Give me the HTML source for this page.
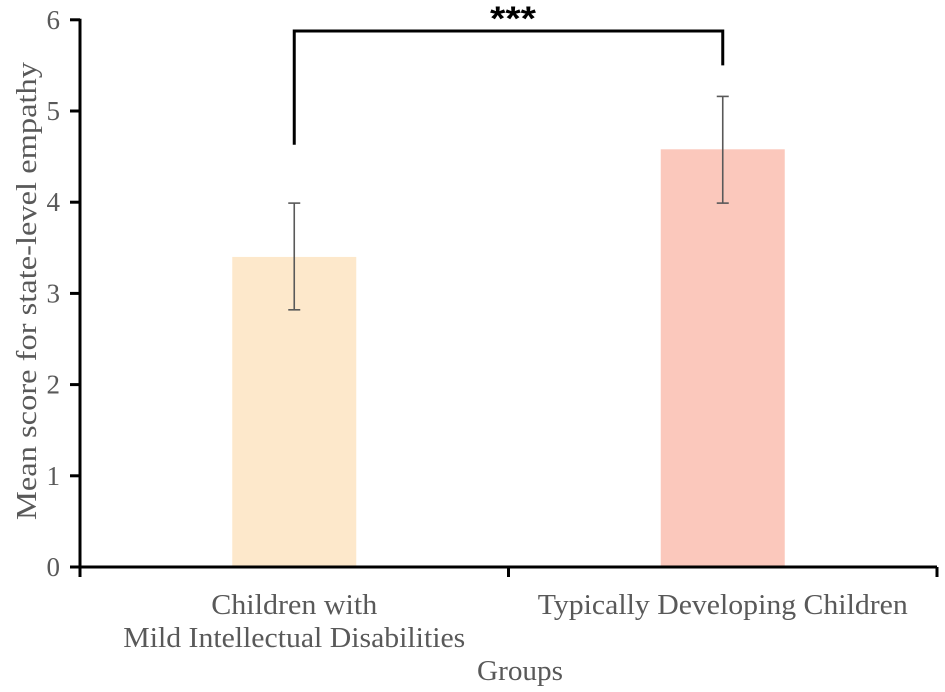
<!DOCTYPE html>
<html><head><meta charset="utf-8"><style>
body{margin:0;background:#fff}
svg{display:block;font-family:"Liberation Serif",serif}
</style></head><body>
<svg id="chart" width="945" height="692" viewBox="0 0 945 692"></svg>
<script>
const categories=["Children with|Mild Intellectual Disabilities","Typically Developing Children"];
const means=[3.40,4.58];
const errLow=[2.82,3.99];
const errHigh=[3.99,5.16];
const yTicks=[0,1,2,3,4,5,6];
const colors=["#fde8cb","#fbc8bc"];
const NS="http://www.w3.org/2000/svg";
const svg=document.getElementById('chart');
const y0=567,unit=91.2;
const y=v=>y0-v*unit;
const xl=80,xr=937,bw=124;
const xc=i=>xl+(xr-xl)*(i+0.5)/categories.length;
const labelW=[[166,342],[370]];
function mk(t,a,p){const e=document.createElementNS(NS,t);for(const k in a)e.setAttribute(k,a[k]);(p||svg).appendChild(e);return e;}
means.forEach((m,i)=>{
 const r=mk('rect',{x:xc(i)-bw/2,y:y(m),width:bw,height:y(0)-y(m),fill:colors[i]});
 
 
});
means.forEach((m,i)=>{
 const g=mk('g',{stroke:'#595959','stroke-width':1.6});
 
 
 const cx=xc(i);
 mk('line',{x1:cx,x2:cx,y1:y(errLow[i]),y2:y(errHigh[i])},g);
 mk('line',{x1:cx-6,x2:cx+6,y1:y(errLow[i]),y2:y(errLow[i])},g);
 mk('line',{x1:cx-6,x2:cx+6,y1:y(errHigh[i]),y2:y(errHigh[i])},g);
});
const ax=mk('g',{stroke:'#000','stroke-width':3});


mk('line',{x1:xl,x2:xl,y1:y(6)-1,y2:577},ax);
mk('line',{x1:xl-10,x2:xr,y1:y0,y2:y0},ax);
[0,1,2].forEach(k=>{const x=xl+(xr-xl)*k/2;mk('line',{x1:x,x2:x,y1:y0,y2:577},ax);});
yTicks.forEach(v=>{
 mk('line',{x1:xl-10,x2:xl,y1:y(v),y2:y(v)},ax);
 const t=mk('text',{x:60,y:y(v)+9,'text-anchor':'end','font-size':27,fill:'#595959'});
 t.textContent=v;
 
 
});
categories.forEach((c,i)=>{
 c.split('|').forEach((line,j)=>{
  const t=mk('text',{x:xc(i),y:614+j*33,'text-anchor':'middle','font-size':28,fill:'#595959',textLength:labelW[i][j],lengthAdjust:'spacingAndGlyphs'});
  t.textContent=line;
  
  
 });
});
const xt=mk('text',{x:520,y:680,'text-anchor':'middle','font-size':28,fill:'#595959',textLength:86,lengthAdjust:'spacingAndGlyphs'});
xt.textContent='Groups';


const yt=mk('text',{x:0,y:0,'text-anchor':'middle','font-size':29,fill:'#595959',textLength:458,lengthAdjust:'spacingAndGlyphs',transform:'translate(36,291) rotate(-90)'});
yt.textContent='Mean score for state-level empathy';


const br=mk('path',{d:`M${xc(0)} ${y(4.63)} V31 H${xc(1)} V${y(5.5)}`,fill:'none',stroke:'#000','stroke-width':3});


const st=mk('text',{x:513,y:30,'text-anchor':'middle','font-size':34,'font-weight':'bold',fill:'#000','font-family':'Liberation Sans, sans-serif',textLength:46,lengthAdjust:'spacingAndGlyphs'});
st.textContent='***';


</script>
</body></html>
